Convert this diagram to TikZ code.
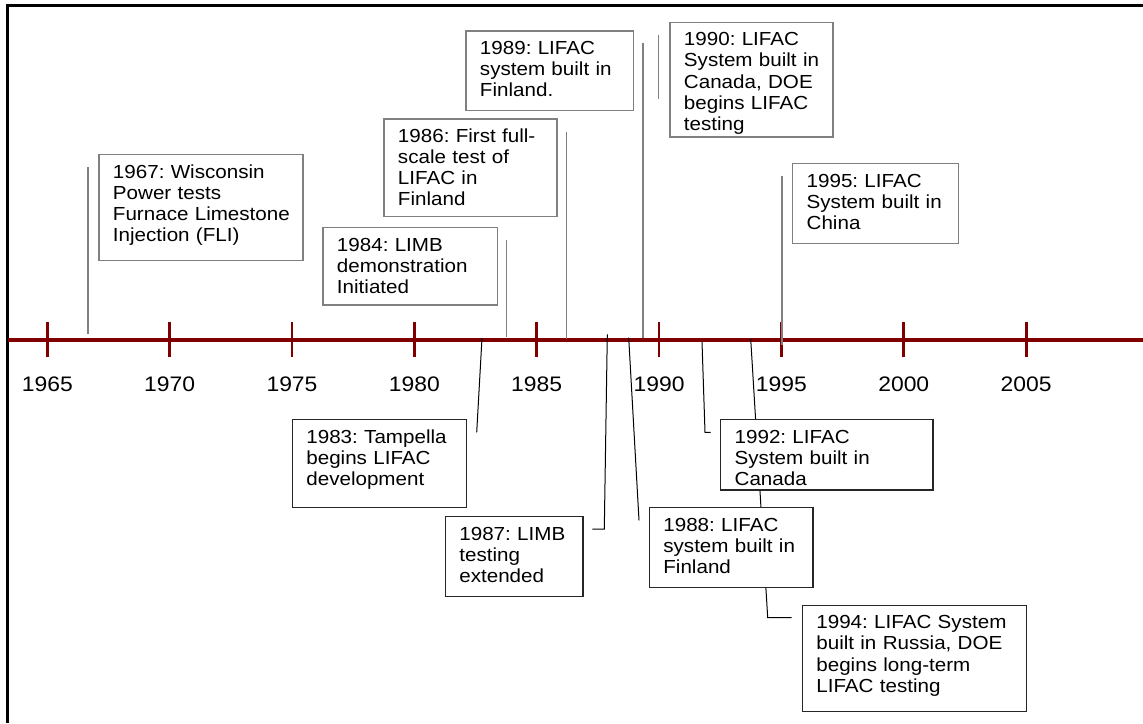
\documentclass[tikz,border=0pt]{standalone}
\usepackage{fontspec}
\setmainfont{Liberation Sans}[FakeStretch=1.09]
\definecolor{axisred}{HTML}{800000}
\newcommand\boxfont{\fontsize{18.9}{21.1}\selectfont\hyphenpenalty=10000\exhyphenpenalty=10000\hfuzz=50pt\relax}
\newcommand\yearfont{\fontsize{21}{24}\selectfont}
\tikzset{
  upbox/.style={draw=gray, line width=1.3pt, fill=white, anchor=north west, align=left,
    inner xsep=14pt, inner ysep=10pt, text height=13.5pt, font=\boxfont},
  lowbox/.style={upbox, draw=black!85},
  upline/.style={draw=gray, line width=1.2pt},
  lowline/.style={draw=black, line width=1pt},
  axisline/.style={draw=axisred, line width=4.5pt},
  tickline/.style={draw=axisred, line width=2.8pt},
  yearlabel/.style={font=\yearfont, anchor=base, inner sep=0pt},
  frameline/.style={draw=black, line width=2.5pt},
}
\begin{document}
\begin{tikzpicture}[x=1pt,y=-1pt]
\useasboundingbox (0,0) rectangle (1143,723);
% frame
\coordinate (fbl) at (7.5,723);
\coordinate (ftl) at (7.5,5.7);
\coordinate (ftr) at (1143,5.7);
\draw[frameline] (fbl) -- (ftl) -- (ftr);
% axis
\coordinate (axl) at (7.5,340);
\coordinate (axr) at (1143,340);
\draw[axisline] (axl) -- (axr);
\foreach \yr in {1965,1970,...,2005}{
  \pgfmathsetmacro\tx{47.3+(\yr-1965)*24.47}
  \coordinate (t\yr a) at (\tx,322);
  \coordinate (t\yr b) at (\tx,357);
  \draw[tickline] (t\yr a) -- (t\yr b);
  \node[yearlabel] (y\yr) at (\tx,391.7) {\yr};
}
% upper leader lines
\coordinate (u67a) at (88,167);    \coordinate (u67b) at (88,334);
\coordinate (u84a) at (506.7,240); \coordinate (u84b) at (506.7,336.7);
\coordinate (u86a) at (566.7,131.7); \coordinate (u86b) at (566.7,339.3);
\coordinate (u89a) at (643,43.3);  \coordinate (u89b) at (643,338.3);
\coordinate (u90a) at (658.7,34.7); \coordinate (u90b) at (658.7,99.3);
\coordinate (u95a) at (782,176.3); \coordinate (u95b) at (782,345);
\draw[upline] (u67a) -- (u67b);
\draw[upline] (u84a) -- (u84b);
\draw[upline] (u86a) -- (u86b);
\draw[upline] (u89a) -- (u89b);
\draw[upline] (u90a) -- (u90b);
\draw[upline] (u95a) -- (u95b);
% lower connectors
\coordinate (l83a) at (482,338);   \coordinate (l83b) at (476.7,432.3);
\coordinate (l87a) at (607.3,334.3); \coordinate (l87b) at (604.3,529); \coordinate (l87c) at (592.3,529);
\coordinate (l88a) at (628.7,337.7); \coordinate (l88b) at (639,520.3);
\coordinate (l92a) at (702,341.7); \coordinate (l92b) at (705,432.3); \coordinate (l92c) at (710.7,432.3);
\coordinate (l94a) at (750.7,339); \coordinate (l94b) at (767.7,617.7); \coordinate (l94c) at (791.7,617.7);
\draw[lowline] (l83a) -- (l83b);
\draw[lowline] (l87a) -- (l87b) -- (l87c);
\draw[lowline] (l88a) -- (l88b);
\draw[lowline] (l92a) -- (l92b) -- (l92c);
\draw[lowline] (l94a) -- (l94b) -- (l94c);
% upper boxes
\node[upbox, text width=176pt, text depth=72.5pt] (b1967) at (98.3,154)
  {1967:~Wisconsin\\Power~tests\\Furnace~Limestone\\Injection~(FLI)};
\node[upbox, text width=146.4pt, text depth=43.8pt] (b1984) at (322.3,227)
  {1984:~LIMB\\demonstration\\Initiated};
\node[upbox, text width=145pt, text depth=63.9pt] (b1986) at (383.3,118.3)
  {1986:~First~full-\\scale~test~of\\LIFAC~in\\Finland};
\node[upbox, text width=139.4pt, text depth=45.9pt] (b1989) at (465.3,30.3)
  {1989:~LIFAC\\system~built~in\\Finland.};
\node[upbox, text width=135pt, text depth=81.1pt] (b1990) at (669.3,21.7)
  {1990:~LIFAC\\System~built~in\\Canada,~DOE\\begins~LIFAC\\testing};
\node[upbox, text width=137.7pt, text depth=46.2pt] (b1995) at (792,163)
  {1995:~LIFAC\\System~built~in\\China};
% lower boxes
\node[lowbox, text width=146.3pt, text depth=54.5pt] (b1983) at (291.7,419)
  {1983:~Tampella\\begins~LIFAC\\development};
\node[lowbox, text width=109.6pt, text depth=46.2pt] (b1987) at (444.7,516)
  {1987:~LIMB\\testing\\extended};
\node[lowbox, text width=135.6pt, text depth=46.2pt] (b1988) at (648.7,507)
  {1988:~LIFAC\\system~built~in\\Finland};
\node[lowbox, text width=184.3pt, text depth=36.8pt] (b1992) at (720,419)
  {1992:~LIFAC\\System~built~in\\Canada};
\node[lowbox, text width=196.3pt, text depth=72.5pt] (b1994) at (801.7,604.7)
  {1994:~LIFAC~System\\built~in~Russia,~DOE\\begins~long-term\\LIFAC~testing};
\end{tikzpicture}
\end{document}
